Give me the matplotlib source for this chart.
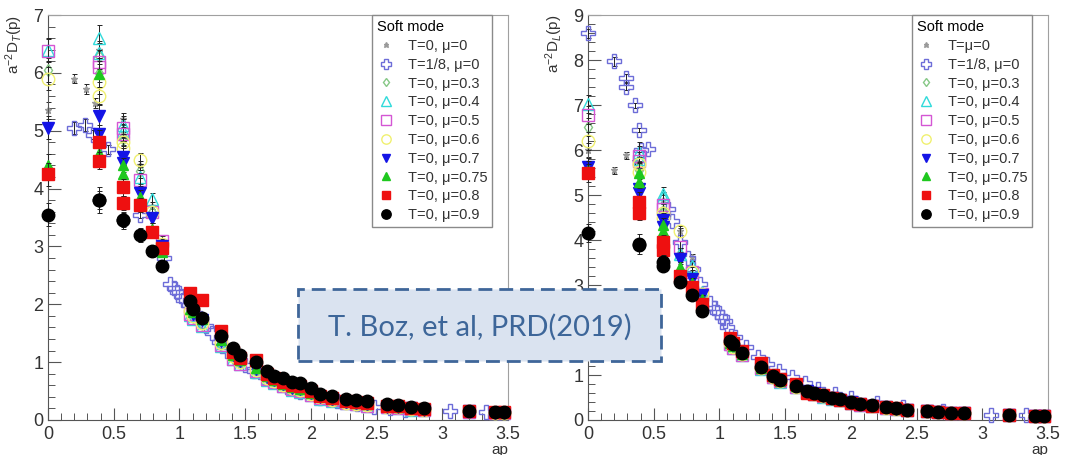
import matplotlib.pyplot as plt
from matplotlib.patches import Rectangle
from matplotlib.ticker import MultipleLocator
from matplotlib.lines import Line2D

plt.rcParams["font.family"] = ["Liberation Sans", "DejaVu Sans"]
plt.rcParams["mathtext.fontset"] = "custom"
plt.rcParams["mathtext.rm"] = "Liberation Sans"
plt.rcParams["mathtext.it"] = "Liberation Sans:italic"

# momenta of the T=0 lattices (first 8 = low momenta with visible errors)
p_T0 = [0.0, 0.39, 0.39, 0.57, 0.57, 0.70, 0.79, 0.87,
        1.08, 1.10, 1.17, 1.32, 1.41, 1.46, 1.58, 1.67, 1.72, 1.79, 1.86, 1.92,
        2.00, 2.07, 2.16, 2.27, 2.34, 2.43, 2.58, 2.66, 2.76, 2.86, 3.20, 3.40, 3.47]
p_mu0 = [0.0, 0.20, 0.29, 0.36, 0.39, 0.57, 0.70, 0.79, 0.87, 1.10, 1.40, 1.80, 2.20, 2.60]
p_T8_T = [0.20, 0.28, 0.34, 0.46, 0.70, 0.88, 0.93, 0.96, 0.98, 1.01, 1.03, 1.07, 1.12,
          1.16, 1.20, 1.25, 1.30, 1.36, 1.42, 1.50, 1.57, 1.65, 1.72, 1.82, 1.92,
          2.07, 2.20, 2.35, 2.48, 2.60, 2.72, 3.06, 3.33]
p_T8_L = [0.0, 0.20, 0.29, 0.29, 0.36, 0.39, 0.40, 0.46, 0.61, 0.64, 0.70, 0.76, 0.80,
          0.85, 0.93, 0.96, 0.98, 1.02, 1.04, 1.06, 1.12, 1.20, 1.29, 1.36, 1.45,
          1.55, 1.65, 1.75, 1.88, 2.00, 2.20, 2.40, 2.70, 3.07, 3.33]

# ---- transverse propagator a^-2 D_T(p) ----
DT_mu0 = [5.35, 5.90, 5.72, 5.48, 6.40, 5.20, 4.40, 3.70, 3.10, 1.85, 1.10, 0.62, 0.36, 0.22]
DT_T8 = [5.05, 5.10, 4.93, 4.68, 3.55, 2.80, 2.35, 2.28, 2.22, 2.15, 2.08, 1.98, 1.85,
         1.72, 1.62, 1.50, 1.35, 1.20, 1.08, 0.95, 0.85, 0.75, 0.68, 0.57, 0.48,
         0.38, 0.32, 0.27, 0.23, 0.20, 0.18, 0.16, 0.13]
DT_mu03 = [6.05, 6.30, 6.00, 4.90, 4.85, 4.30, 3.60, 3.00,
           1.86, 1.78, 1.66, 1.31, 1.08, 0.98, 0.85, 0.72, 0.66, 0.60, 0.54, 0.51,
           0.44, 0.38, 0.34, 0.30, 0.28, 0.26, 0.22, 0.21, 0.19, 0.17, 0.14, 0.12, 0.12]
DT_mu04 = [6.40, 6.60, 6.35, 5.10, 5.00, 4.20, 3.82, 3.00,
           1.82, 1.74, 1.62, 1.28, 1.05, 0.96, 0.83, 0.70, 0.64, 0.58, 0.52, 0.49,
           0.43, 0.37, 0.33, 0.29, 0.27, 0.25, 0.22, 0.21, 0.18, 0.17, 0.14, 0.12, 0.12]
DT_mu05 = [6.38, 6.18, 6.10, 5.05, 4.95, 4.15, 3.60, 3.10,
           1.84, 1.76, 1.64, 1.30, 1.06, 0.97, 0.84, 0.71, 0.65, 0.59, 0.53, 0.50,
           0.44, 0.38, 0.34, 0.29, 0.27, 0.25, 0.22, 0.21, 0.19, 0.17, 0.14, 0.12, 0.12]
DT_mu06 = [5.90, 5.85, 5.60, 4.80, 4.70, 4.50, 3.60, 3.05,
           1.88, 1.80, 1.68, 1.33, 1.10, 1.00, 0.86, 0.73, 0.67, 0.60, 0.55, 0.52,
           0.45, 0.39, 0.35, 0.30, 0.28, 0.26, 0.23, 0.22, 0.19, 0.18, 0.15, 0.12, 0.12]
DT_mu07 = [5.05, 5.25, 4.95, 4.55, 4.45, 3.92, 3.50, 3.00,
           1.95, 1.84, 1.72, 1.36, 1.12, 1.02, 0.88, 0.75, 0.69, 0.62, 0.56, 0.53,
           0.46, 0.40, 0.36, 0.31, 0.29, 0.27, 0.23, 0.22, 0.20, 0.18, 0.15, 0.12, 0.12]
DT_mu075 = [4.40, 5.98, 4.62, 4.25, 4.40, 3.85, 3.30, 2.90,
            1.92, 1.86, 1.74, 1.38, 1.13, 1.03, 0.90, 0.76, 0.70, 0.63, 0.57, 0.54,
            0.47, 0.41, 0.37, 0.32, 0.30, 0.28, 0.24, 0.23, 0.20, 0.19, 0.15, 0.13, 0.12]
DT_mu08 = [4.25, 4.80, 4.48, 4.02, 3.75, 3.72, 3.25, 2.97,
           2.20, 1.98, 2.08, 1.53, 1.18, 1.08, 1.04, 0.80, 0.72, 0.66, 0.60, 0.58,
           0.50, 0.42, 0.38, 0.33, 0.31, 0.29, 0.25, 0.24, 0.21, 0.19, 0.16, 0.13, 0.13]
DT_mu09 = [3.55, 3.80, 3.80, 3.45, 3.45, 3.20, 2.92, 2.66,
           2.05, 1.92, 1.77, 1.46, 1.24, 1.13, 1.00, 0.84, 0.76, 0.72, 0.65, 0.64,
           0.56, 0.45, 0.42, 0.36, 0.34, 0.32, 0.27, 0.26, 0.22, 0.20, 0.16, 0.13, 0.13]

# ---- longitudinal propagator a^-2 D_L(p) ----
DL_mu0 = [6.00, 5.55, 5.88, 5.75, 5.60, 4.90, 4.19, 3.63, 2.90, 1.70, 1.00, 0.55, 0.31, 0.19]
DL_T8 = [8.60, 7.97, 7.60, 7.41, 6.99, 6.44, 6.00, 6.02, 4.70, 4.43, 3.96, 3.60, 3.35,
         3.03, 2.60, 2.50, 2.41, 2.30, 2.20, 2.07, 1.85, 1.62, 1.40, 1.25, 1.08,
         0.95, 0.82, 0.70, 0.58, 0.48, 0.38, 0.30, 0.20, 0.12, 0.11]
DL_mu03 = [6.52, 5.60, 5.55, 4.65, 4.60, 3.70, 3.20, 2.75,
           1.70, 1.62, 1.45, 1.15, 0.96, 0.86, 0.74, 0.62, 0.58, 0.53, 0.48, 0.44,
           0.38, 0.34, 0.31, 0.27, 0.25, 0.22, 0.19, 0.17, 0.16, 0.15, 0.12, 0.10, 0.10]
DL_mu04 = [7.02, 5.95, 5.80, 5.03, 4.95, 3.70, 3.43, 2.85,
           1.68, 1.60, 1.44, 1.14, 0.95, 0.85, 0.73, 0.62, 0.57, 0.52, 0.47, 0.44,
           0.38, 0.34, 0.31, 0.27, 0.24, 0.22, 0.19, 0.17, 0.15, 0.15, 0.12, 0.10, 0.10]
DL_mu05 = [6.77, 5.86, 5.75, 4.77, 4.70, 3.85, 3.30, 2.80,
           1.69, 1.61, 1.45, 1.15, 0.95, 0.86, 0.74, 0.62, 0.58, 0.53, 0.48, 0.44,
           0.38, 0.34, 0.31, 0.27, 0.25, 0.22, 0.19, 0.17, 0.16, 0.15, 0.12, 0.10, 0.10]
DL_mu06 = [6.19, 5.52, 5.70, 4.59, 4.50, 4.19, 3.30, 2.80,
           1.71, 1.63, 1.46, 1.16, 0.96, 0.86, 0.74, 0.63, 0.58, 0.53, 0.48, 0.45,
           0.39, 0.35, 0.31, 0.27, 0.25, 0.22, 0.19, 0.18, 0.16, 0.15, 0.12, 0.10, 0.10]
DL_mu07 = [5.63, 5.14, 5.05, 4.45, 4.30, 3.58, 3.14, 2.77,
           1.74, 1.66, 1.48, 1.17, 0.97, 0.88, 0.75, 0.64, 0.59, 0.54, 0.49, 0.45,
           0.39, 0.35, 0.32, 0.28, 0.25, 0.23, 0.19, 0.18, 0.16, 0.15, 0.12, 0.10, 0.10]
DL_mu075 = [5.55, 5.50, 5.30, 4.33, 4.20, 3.40, 3.05, 2.70,
            1.72, 1.64, 1.47, 1.16, 0.97, 0.87, 0.75, 0.63, 0.58, 0.54, 0.49, 0.45,
            0.39, 0.35, 0.32, 0.28, 0.25, 0.22, 0.19, 0.18, 0.16, 0.15, 0.12, 0.10, 0.10]
DL_mu08 = [5.48, 4.85, 4.59, 3.96, 3.77, 3.20, 2.95, 2.58,
           1.82, 1.72, 1.53, 1.26, 1.00, 0.92, 0.80, 0.60, 0.58, 0.56, 0.50, 0.45,
           0.38, 0.35, 0.32, 0.28, 0.26, 0.23, 0.20, 0.18, 0.16, 0.16, 0.12, 0.10, 0.10]
DL_mu09 = [4.15, 3.92, 3.90, 3.52, 3.43, 3.07, 2.77, 2.43,
           1.76, 1.68, 1.50, 1.18, 0.98, 0.88, 0.76, 0.64, 0.60, 0.55, 0.50, 0.46,
           0.40, 0.36, 0.33, 0.29, 0.26, 0.23, 0.20, 0.18, 0.16, 0.16, 0.12, 0.10, 0.10]

# statistical errors of the low-momentum points
err_mu0 = [0.15, 0.08, 0.08, 0.08, 0.15, 0.10, 0.08, 0.06]
err_T8 = [0.10, 0.10, 0.08, 0.08, 0.06, 0.05]
err_T0 = [0.20, 0.22, 0.15, 0.15, 0.12, 0.12, 0.10, 0.08]

labels_T = ["T=0, \u03bc=0", "T=1/8, \u03bc=0", "T=0, \u03bc=0.3", "T=0, \u03bc=0.4",
            "T=0, \u03bc=0.5", "T=0, \u03bc=0.6", "T=0, \u03bc=0.7", "T=0, \u03bc=0.75",
            "T=0, \u03bc=0.8", "T=0, \u03bc=0.9"]
labels_L = ["T=\u03bc=0"] + labels_T[1:]

styles = [
    dict(marker="*", ms=5, color="#9a9a9a"),
    dict(marker="P", ms=10, mfc="none", mec="#6d6dd8", mew=1.0),
    dict(marker="d", ms=6, mfc="none", mec="#86c886", mew=1.0),
    dict(marker="^", ms=9, mfc="none", mec="#30dada", mew=1.0),
    dict(marker="s", ms=9, mfc="none", mec="#d456d4", mew=1.0),
    dict(marker="o", ms=9, mfc="none", mec="#f0f070", mew=1.0),
    dict(marker="v", ms=8, color="#1414e6"),
    dict(marker="^", ms=7, color="#1ec81e"),
    dict(marker="s", ms=8.5, color="#ee1010"),
    dict(marker="o", ms=9, color="black"),
]

fig = plt.figure(figsize=(10.77, 4.55), dpi=100)
ax1 = fig.add_axes([48 / 1077, 35 / 455, 460 / 1077, 405 / 455])
ax2 = fig.add_axes([588 / 1077, 35 / 455, 460 / 1077, 405 / 455])

panels = [
    (ax1, [DT_mu0, DT_T8, DT_mu03, DT_mu04, DT_mu05, DT_mu06, DT_mu07, DT_mu075, DT_mu08, DT_mu09],
     p_T8_T, 7, r"a$^{-2}$D$_{T}$(p)", labels_T, 372),
    (ax2, [DL_mu0, DL_T8, DL_mu03, DL_mu04, DL_mu05, DL_mu06, DL_mu07, DL_mu075, DL_mu08, DL_mu09],
     p_T8_L, 9, r"a$^{-2}$D$_{L}$(p)", labels_L, 912),
]

for ax, series, p_T8, ymax, ylab, labels, leg_x in panels:
    handles = []
    for i, y in enumerate(series):
        if i == 0:
            x, err = p_mu0, err_mu0
        elif i == 1:
            x, err = p_T8, err_T8
        else:
            x, err = p_T0, err_T0
        n = len(err)
        ax.errorbar(x[:n], y[:n], yerr=err, fmt="none", ecolor="#222222",
                    elinewidth=0.7, capsize=1.8, capthick=0.7, clip_on=False, zorder=2 + i)
        ax.plot(x, y, ls="none", clip_on=False, zorder=2 + i, **styles[i])
        handles.append(Line2D([], [], ls="none", **{**styles[i], "ms": styles[i]["ms"] * 0.75}))

    ax.set_xlim(0, 3.5)
    ax.set_ylim(0, ymax)
    ax.xaxis.set_major_locator(MultipleLocator(0.5))
    ax.xaxis.set_minor_locator(MultipleLocator(0.1))
    ax.yaxis.set_major_locator(MultipleLocator(1))
    ax.yaxis.set_minor_locator(MultipleLocator(0.2))
    ax.xaxis.set_major_formatter(plt.FuncFormatter(lambda v, _: f"{v:g}"))
    ax.tick_params(which="both", direction="in", top=False, right=False,
                   colors="#555555", labelcolor="#333333", labelsize=13)
    ax.tick_params(which="major", length=9, width=0.8)
    ax.tick_params(which="minor", length=5, width=0.7)
    ax.tick_params(axis="x", pad=4)
    for side in ["left", "bottom"]:
        ax.spines[side].set_color("#555555")
    for side in ["top", "right"]:
        ax.spines[side].set_color("#a0a0a0")
    ax.set_ylabel(ylab, loc="top", fontsize=11, color="#333333", labelpad=6)
    ax.set_xlabel("ap", loc="right", fontsize=11, color="#333333", labelpad=0)

    leg = ax.legend(handles, labels, title="Soft mode", loc="upper left",
                    bbox_to_anchor=(leg_x / 1077, 1 - 15 / 455), bbox_transform=fig.transFigure,
                    fontsize=10.5, title_fontsize=10.5, frameon=True, fancybox=False,
                    edgecolor="#8a8a8a", framealpha=1, borderpad=0.35, labelspacing=0.33,
                    handlelength=1.2, handletextpad=0.9, borderaxespad=0, alignment="left")
    leg.get_frame().set_linewidth(1.0)
    for t in leg.get_texts():
        t.set_color("#333333")
    leg.set_zorder(20)

# citation box
box = Rectangle((298 / 1077, 1 - 361 / 455), 363 / 1077, 72 / 455, transform=fig.transFigure,
                facecolor="#dae3f0", edgecolor="#3f6699", lw=2, ls=(0, (5, 2.5)), zorder=30)
fig.patches.append(box)
fig.text(479.5 / 1077, 1 - 327 / 455, "T. Boz, et al, PRD(2019)", ha="center", va="center",
         fontsize=21, family="Lato", color="#3d6699", zorder=31)

fig.savefig("out.png", dpi=100)
